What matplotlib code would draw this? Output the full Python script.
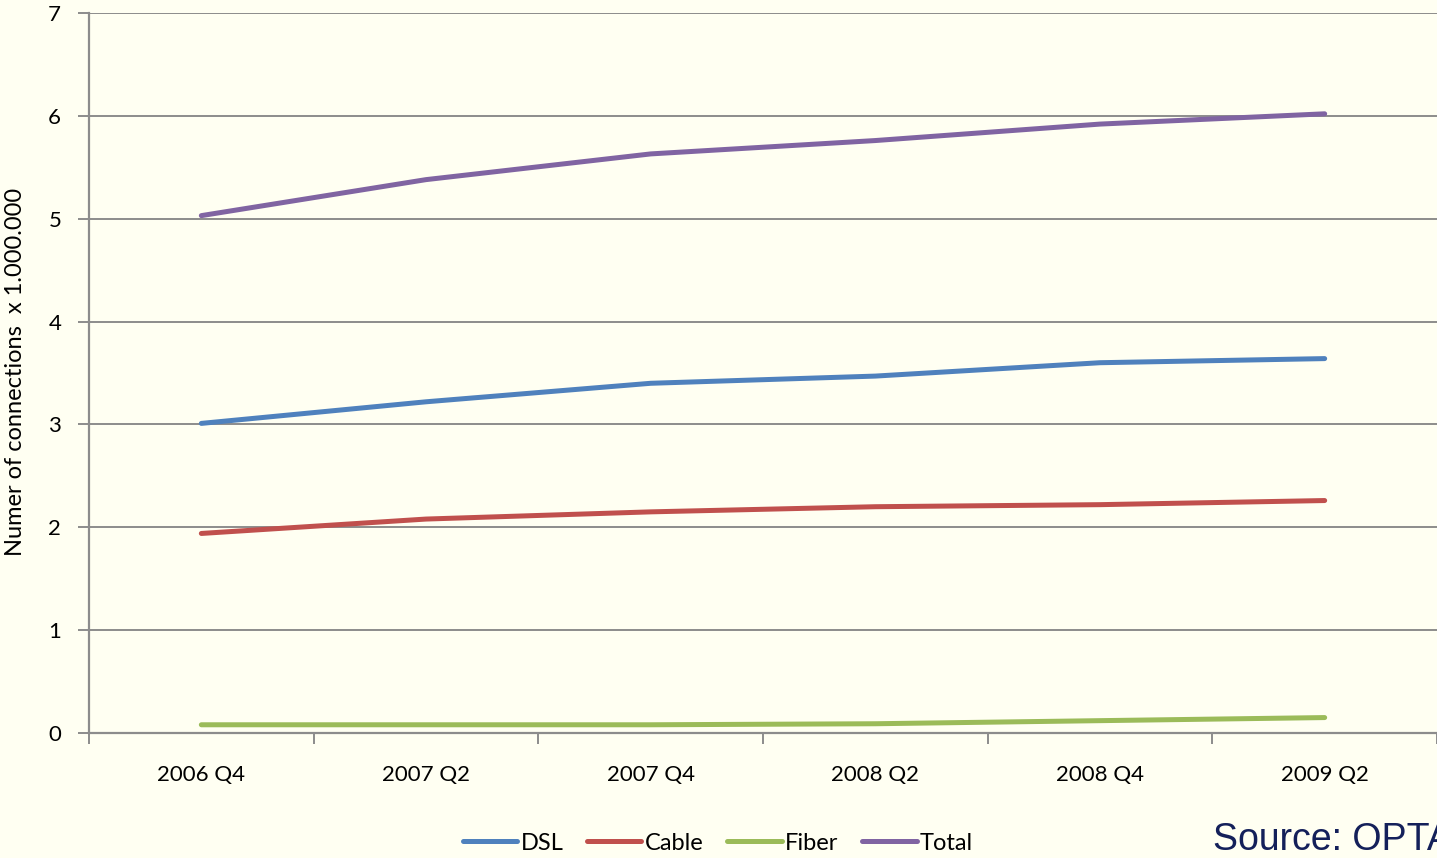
import matplotlib.pyplot as plt
from matplotlib.ticker import MultipleLocator, FixedLocator
import numpy as np

# Broadband connections in the Netherlands, millions
quarters = ['2006 Q4', '2007 Q2', '2007 Q4', '2008 Q2', '2008 Q4', '2009 Q2']
dsl = [3.01, 3.22, 3.40, 3.47, 3.60, 3.64]
cable = [1.94, 2.08, 2.15, 2.20, 2.22, 2.26]
fiber = [0.08, 0.08, 0.08, 0.09, 0.12, 0.15]
total = [5.03, 5.38, 5.63, 5.76, 5.92, 6.02]

series = [('DSL', dsl, '#4F81BD'), ('Cable', cable, '#C0504D'),
          ('Fiber', fiber, '#9BBB59'), ('Total', total, '#8064A2')]

plt.rcParams['font.family'] = ['Lato', 'DejaVu Sans']
bg = '#FFFFF2'
grid = '#8C8C8C'

W, H = 1437, 858
fig = plt.figure(figsize=(W / 100, H / 100), dpi=100, facecolor=bg)
ax = fig.add_axes([89 / W, 1 - 733 / H, (W - 89) / W, 720 / H])
ax.set_facecolor(bg)

x = np.arange(len(quarters))
for name, vals, col in series:
    ax.plot(x, vals, color=col, linewidth=3.6, label=name,
            solid_capstyle='round', zorder=3)

ax.set_xlim(-0.5, len(quarters) - 0.5)
ax.set_ylim(0, 7)
ax.yaxis.set_major_locator(MultipleLocator(1))
ax.grid(axis='y', color=grid, linewidth=1.4, zorder=1)

ax.set_xticks(x)
ax.set_xticklabels(quarters, fontsize=16)
ax.xaxis.set_minor_locator(FixedLocator(np.arange(-0.5, len(quarters), 1)))
ax.tick_params(axis='x', which='major', length=0, pad=23)
ax.tick_params(axis='x', which='minor', length=8, width=1.4, color=grid)
ax.tick_params(axis='y', length=8, width=1.4, color=grid, labelsize=16, pad=12)

for s in ['top', 'right']:
    ax.spines[s].set_visible(False)
for s in ['left', 'bottom']:
    ax.spines[s].set_color(grid)
    ax.spines[s].set_linewidth(1.6)

fig.text(16 / W, 1 - 372 / H, 'Numer of connections  x 1.000.000', rotation=90,
         ha='center', va='center', fontsize=17)

fig.legend(loc='center', bbox_to_anchor=(718 / W, 1 - 843 / H), ncol=4,
           frameon=False, fontsize=17, handlelength=2.3, handletextpad=0.15,
           columnspacing=1.0)

fig.text(1213 / W, 1 - 840 / H, 'Source: OPTA', fontsize=27, color='#14205A',
         family='Liberation Sans', ha='left', va='center')

fig.savefig('out.png', dpi=100, facecolor=bg)
